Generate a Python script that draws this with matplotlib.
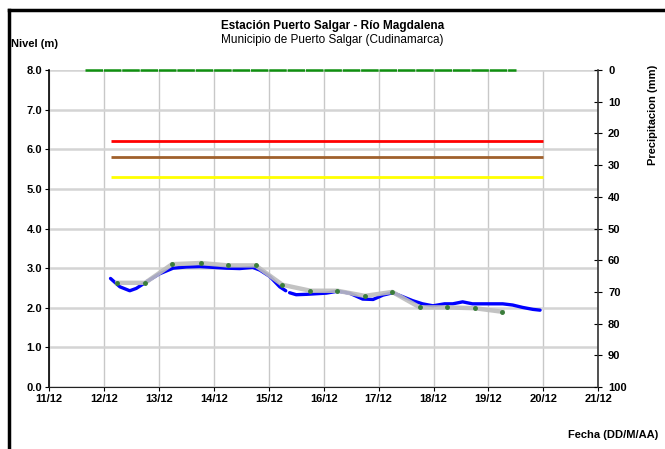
import numpy as np
import matplotlib
matplotlib.use("Agg")
import matplotlib.pyplot as plt
from matplotlib.lines import Line2D

plt.rcParams['font.family'] = ['Liberation Sans', 'DejaVu Sans']

# nivel observado (dia de diciembre, metros)
nivel_dia = [12.12, 12.29, 12.47, 12.59, 12.78, 13.0, 13.26, 13.5, 13.75, 13.99,
             14.23, 14.47, 14.71, 14.84, 15.02, 15.2, 15.31]
nivel_m = [2.74, 2.53, 2.43, 2.49, 2.66, 2.85, 3.0, 3.03, 3.04, 3.02,
           3.0, 2.99, 3.02, 2.95, 2.79, 2.53, 2.43]
nivel2_dia = [15.38, 15.5, 15.69, 16.05, 16.26, 16.47, 16.71, 16.9, 17.08, 17.26,
              17.44, 17.62, 17.8, 17.99, 18.2, 18.35, 18.53, 18.71, 19.02, 19.26,
              19.44, 19.62, 19.81, 19.94]
nivel2_m = [2.38, 2.33, 2.34, 2.37, 2.42, 2.37, 2.22, 2.21, 2.32, 2.38,
            2.28, 2.18, 2.10, 2.05, 2.10, 2.10, 2.15, 2.10, 2.10, 2.10,
            2.07, 2.01, 1.96, 1.94]

# nivel medio (puntos cada 12 h)
medio_dia = [12.24, 12.75, 13.24, 13.76, 14.25, 14.76, 15.25, 15.76, 16.25,
             16.75, 17.25, 17.75, 18.25, 18.75, 19.25]
medio_m = [2.63, 2.63, 3.10, 3.13, 3.07, 3.07, 2.58, 2.43, 2.43,
           2.30, 2.40, 2.01, 2.01, 1.99, 1.90]

# umbrales de alerta
umbral_ini, umbral_fin = 12.12, 20.0
umbral_roja = 6.2
umbral_naranja = 5.8
umbral_amarilla = 5.3

# precipitacion (mm)
precip_dia = [11.65, 19.5]
precip_mm = [0, 0]

x_ticks = list(range(11, 22))
x_labels = ['%d/12' % d for d in x_ticks]

fig = plt.figure(figsize=(6.65, 4.49), dpi=100)
ax = fig.add_axes([0.0737, 0.138, 0.826, 0.706])

ax.set_xlim(11, 21)
ax.set_ylim(0, 8)
ax.set_xticks(x_ticks)
ax.set_xticklabels(x_labels, fontsize=8, fontweight='bold')
ax.set_yticks(np.arange(0, 9, 1.0))
ax.set_yticklabels(['%.1f' % v for v in np.arange(0, 9, 1.0)], fontsize=8, fontweight='bold')
ax.grid(axis='x', color='#c8c8c8', lw=1.0)
ax.grid(axis='y', color='#d4d4d4', lw=1.8)
ax.set_axisbelow(True)
for s in ['top', 'right']:
    ax.spines[s].set_visible(False)
ax.spines['left'].set_color('black')
ax.spines['bottom'].set_color('#222222')
ax.spines['left'].set_linewidth(1.2)
ax.tick_params(axis='both', length=3, width=0.8, pad=2)

ax.hlines(umbral_roja, umbral_ini, umbral_fin, color='#ff0000', lw=2)
ax.hlines(umbral_naranja, umbral_ini, umbral_fin, color='#a0602c', lw=2)
ax.hlines(umbral_amarilla, umbral_ini, umbral_fin, color='#ffff00', lw=2)

ax.plot(nivel_dia, nivel_m, color='#0000ff', lw=2.4, solid_capstyle='round', zorder=3)
ax.plot(nivel2_dia, nivel2_m, color='#0000ff', lw=2.4, solid_capstyle='round', zorder=3)
ax.plot(medio_dia, medio_m, color='#bdbdbd', lw=3.2, alpha=0.9,
        solid_joinstyle='round', zorder=4)
ax.plot(medio_dia, medio_m, ls='none', marker='o', ms=2.5, color='#3a7d3a', zorder=5)

ax2 = ax.twinx()
ax2.set_ylim(100, 0)
ax2.set_yticks(range(0, 101, 10))
ax2.set_yticklabels([str(v) for v in range(0, 101, 10)], fontsize=8, fontweight='bold')
ax2.tick_params(axis='y', direction='inout', length=6, width=0.8, pad=4)
for s in ['top', 'left', 'bottom']:
    ax2.spines[s].set_visible(False)
ax2.spines['right'].set_color('#333333')
ax2.spines['right'].set_linewidth(1.2)
ax2.plot(precip_dia, precip_mm, color='#109010', lw=1.8,
         dashes=(7, 0.35), clip_on=False, zorder=6)
ax2.set_ylabel('Precipitacion (mm)', fontsize=8, fontweight='bold', labelpad=6)
ax2.yaxis.set_label_coords(1.09, 0.86)

fig.text(0.5, 0.942, 'Estación Puerto Salgar - Río Magdalena', ha='center',
         va='center', fontsize=8.5, fontweight='bold')
fig.text(0.5, 0.912, 'Municipio de Puerto Salgar (Cudinamarca)', ha='center',
         va='center', fontsize=8.5)
fig.text(0.016, 0.903, 'Nivel (m)', ha='left', va='center', fontsize=8, fontweight='bold')
fig.text(0.99, 0.031, 'Fecha (DD/M/AA)', ha='right', va='center', fontsize=8, fontweight='bold')

# marco de la figura (borde superior e izquierdo)
fig.add_artist(Line2D([0.013, 1.0], [0.978, 0.978], color='black', lw=2.5, transform=fig.transFigure))
fig.add_artist(Line2D([0.013, 0.013], [0.978, 0.0], color='black', lw=2.5, transform=fig.transFigure))

fig.savefig('out.png', dpi=100)
